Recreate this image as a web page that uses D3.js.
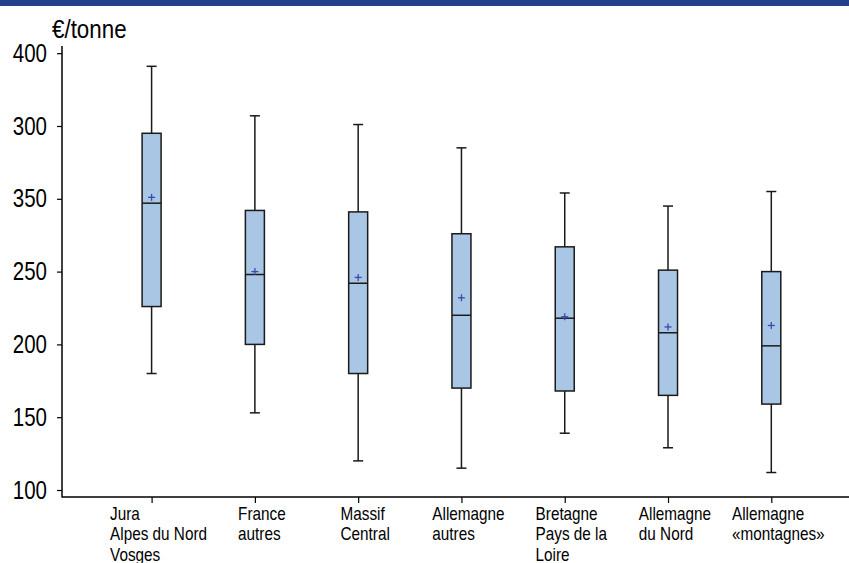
<!DOCTYPE html>
<html><head><meta charset="utf-8">
<script src="https://cdn.jsdelivr.net/npm/d3@7"></script>
<style>body{margin:0;background:#fff}svg{display:block}</style>
</head><body>
<script>
const categories = [
  ["Jura","Alpes du Nord","Vosges"],
  ["France","autres"],
  ["Massif","Central"],
  ["Allemagne","autres"],
  ["Bretagne","Pays de la","Loire"],
  ["Allemagne","du Nord"],
  ["Allemagne","«montagnes»"]
];
const whiskerLow  = [180, 153, 120, 115, 139, 129, 112];
const q1          = [226, 200, 180, 170, 168, 165, 159];
const median      = [297, 248, 242, 220, 218, 208, 199];
const q3          = [345, 292, 291, 276, 267, 251, 250];
const whiskerHigh = [391, 357, 351, 335, 304, 295, 305];
const mean        = [301, 250, 246, 232, 219, 212, 213];
const yTickValues = [100, 150, 200, 250, 300, 350, 400];
const yTickLabels = ["100", "150", "200", "250", "350", "300", "400"];
const yTitle = "€/tonne";

const W = 849, H = 563;
const svg = d3.select("body").append("svg").attr("width", W).attr("height", H);
const font = "'Liberation Sans',Arial,sans-serif";

svg.append("rect").attr("x",0).attr("y",0).attr("width",W).attr("height",6).attr("fill","#243f8c");

const y = d3.scaleLinear().domain([100,400]).range([490,53.2]);
const idx = d3.range(categories.length);
const x = d3.scalePoint().domain(idx).range([151.6, 771.3]);

const axisX = 62, axisBottom = 497;
svg.append("line").attr("x1",axisX).attr("x2",axisX).attr("y1",46).attr("y2",axisBottom+0.5)
  .attr("stroke","#000").attr("stroke-width",1.5);
svg.append("line").attr("x1",axisX).attr("x2",W).attr("y1",axisBottom).attr("y2",axisBottom)
  .attr("stroke","#000").attr("stroke-width",1.5);

// y axis ticks
const sy = 0.82;
const yAxis = d3.axisLeft(y).tickValues(yTickValues).tickSize(5).tickPadding(9)
  .tickFormat((d,i)=>yTickLabels[i]);
const gy = svg.append("g").attr("transform",`translate(${axisX},0)`).call(yAxis);
gy.select(".domain").remove();
gy.selectAll(".tick line").attr("stroke","#000").attr("stroke-width",1.2);
gy.selectAll(".tick text").attr("font-family",font).attr("font-size",25).attr("fill","#000")
  .attr("x", -15/sy).attr("transform",`scale(${sy},1)`);

const st = 0.86;
svg.append("text").attr("transform",`translate(52,38) scale(${st},1)`).attr("font-family",font).attr("font-size",26)
  .attr("fill","#000").text(yTitle);

// x axis ticks
const xAxis = d3.axisBottom(x).tickSize(6).tickFormat("");
const gx = svg.append("g").attr("transform",`translate(0,${axisBottom})`).call(xAxis);
gx.select(".domain").remove();
gx.selectAll(".tick line").attr("stroke","#000").attr("stroke-width",1.2);

// x labels: left aligned block centered on tick
const sx = 0.85;
idx.forEach(i=>{
  const t = svg.append("text").attr("font-family",font).attr("font-size",18).attr("fill","#000");
  categories[i].forEach((line,k)=>{
    t.append("tspan").attr("x",0).attr("y",520 + k*20.5).text(line);
  });
  const w = t.node().getBBox().width * sx;
  t.attr("transform",`translate(${x(i)-w/2+7},0) scale(${sx},1)`);
});

// boxes
const bw = 19, cw = 10;
const g = svg.append("g");
const stroke = "#1a1a1a";
idx.forEach(i=>{
  const cx = x(i);
  g.append("line").attr("x1",cx).attr("x2",cx).attr("y1",y(whiskerHigh[i])).attr("y2",y(q3[i]))
    .attr("stroke",stroke).attr("stroke-width",1.5);
  g.append("line").attr("x1",cx).attr("x2",cx).attr("y1",y(q1[i])).attr("y2",y(whiskerLow[i]))
    .attr("stroke",stroke).attr("stroke-width",1.5);
  g.append("line").attr("x1",cx-cw/2).attr("x2",cx+cw/2).attr("y1",y(whiskerHigh[i])).attr("y2",y(whiskerHigh[i]))
    .attr("stroke",stroke).attr("stroke-width",1.5);
  g.append("line").attr("x1",cx-cw/2).attr("x2",cx+cw/2).attr("y1",y(whiskerLow[i])).attr("y2",y(whiskerLow[i]))
    .attr("stroke",stroke).attr("stroke-width",1.5);
  g.append("rect").attr("x",cx-bw/2).attr("y",y(q3[i])).attr("width",bw).attr("height",y(q1[i])-y(q3[i]))
    .attr("fill","#a9c7e4").attr("stroke",stroke).attr("stroke-width",1.5);
  g.append("line").attr("x1",cx-bw/2).attr("x2",cx+bw/2).attr("y1",y(median[i])).attr("y2",y(median[i]))
    .attr("stroke",stroke).attr("stroke-width",1.5);
  const my = y(mean[i]);
  g.append("line").attr("x1",cx-3.5).attr("x2",cx+3.5).attr("y1",my).attr("y2",my).attr("stroke","#3a48b0").attr("stroke-width",1.3);
  g.append("line").attr("x1",cx).attr("x2",cx).attr("y1",my-3.5).attr("y2",my+3.5).attr("stroke","#3a48b0").attr("stroke-width",1.3);
});
</script>
</body></html>
